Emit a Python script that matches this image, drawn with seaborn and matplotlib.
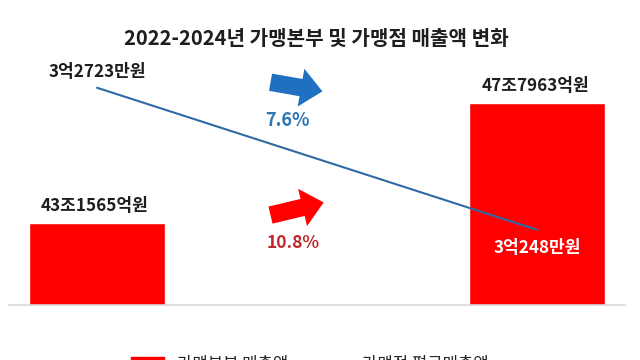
import matplotlib
matplotlib.use("Agg")
import matplotlib.pyplot as plt
import seaborn as sns
import numpy as np
from matplotlib.patches import Patch
from matplotlib.lines import Line2D

# data
years = ["2022년", "2024년"]
hq_sales = [43.1565, 47.7963]  # 조원
hq_labels = ["43조1565억원", "47조7963억원"]
store_avg = [3.2723, 3.0248]  # 억원
store_labels = ["3억2723만원", "3억248만원"]
hq_growth = "10.8%"
store_growth = "7.6%"

sns.set_theme(style="white")
plt.rcParams["font.family"] = ["Noto Sans CJK KR", "DejaVu Sans"]

RED = "#ff0000"
BLUE = "#1f70c1"
LINE = "#2f6aa3"
DARKRED = "#c0272d"
INK = "#1e1e1e"

fig = plt.figure(figsize=(6.4, 3.6), dpi=100)
ax = fig.add_axes([0.014, 0.153, 0.963, 0.72])
x = np.arange(len(years))

sns.barplot(x=years, y=hq_sales, color=RED, width=0.31, saturation=1, ax=ax)
ax.set_ylim(40, 50)
ax.set_xlim(-0.2, 1.2)
for i, v in enumerate(hq_sales):
    ax.annotate(hq_labels[i], (x[i], v), xytext=(-2, 17), textcoords="offset pixels",
                ha="center", va="center", fontsize=12.3, fontweight="bold", color=INK)

ax2 = ax.twinx()
sns.lineplot(x=x, y=store_avg, color=LINE, linewidth=1.5, ax=ax2)
ax2.set_ylim(2.894, 3.3455)
ax2.set_xlim(-0.2, 1.2)
ax2.annotate(store_labels[0], (x[0], store_avg[0]), xytext=(0, 16), textcoords="offset pixels",
             ha="center", va="center", fontsize=12.3, fontweight="bold", color=INK)
ax2.annotate(store_labels[1], (x[1], store_avg[1]), xytext=(0, -18), textcoords="offset pixels",
             ha="center", va="center", fontsize=12.3, fontweight="bold", color="white")

# arrows and growth rates
arrow = "simple,head_width=2.3,head_length=1.3,tail_width=1.05"
ax.annotate("", xy=(0.513, 0.822), xytext=(0.42, 0.861), xycoords="axes fraction",
            arrowprops=dict(arrowstyle=arrow, color=BLUE, lw=0))
ax.text(0.451, 0.71, store_growth, transform=ax.transAxes, ha="center", va="center",
        fontsize=13, fontweight="bold", color="#2e75b6")
ax.annotate("", xy=(0.515, 0.398), xytext=(0.42, 0.344), xycoords="axes fraction",
            arrowprops=dict(arrowstyle=arrow, color=RED, lw=0))
ax.text(0.461, 0.239, hq_growth, transform=ax.transAxes, ha="center", va="center",
        fontsize=12.5, fontweight="bold", color=DARKRED)

for a in (ax, ax2):
    a.set_yticks([])
    a.set_ylabel("")
    for s in a.spines.values():
        s.set_visible(False)
ax.spines["bottom"].set_visible(True)
ax.spines["bottom"].set_color("#d9d9d9")
ax.spines["bottom"].set_linewidth(1.2)
ax.tick_params(axis="x", length=0, pad=17)
for t in ax.get_xticklabels():
    t.set_fontsize(11.5)
    t.set_fontweight("bold")
    t.set_color(INK)
ax2.set_xticks([])

fig.text(0.494, 0.894, "2022-2024년 가맹본부 및 가맹점 매출액 변화", ha="center", va="center",
         fontsize=14.5, fontweight="bold", color=INK)

handles = [Patch(color=RED, label="가맹본부 매출액"),
           Line2D([], [], color=LINE, lw=2, label="가맹점 평균매출액")]
fig.legend(handles=handles, loc="center", bbox_to_anchor=(0.484, -0.012), ncol=2,
           frameon=False, fontsize=12, handlelength=2.0, columnspacing=1.6)

fig.savefig("out.png", dpi=100)
